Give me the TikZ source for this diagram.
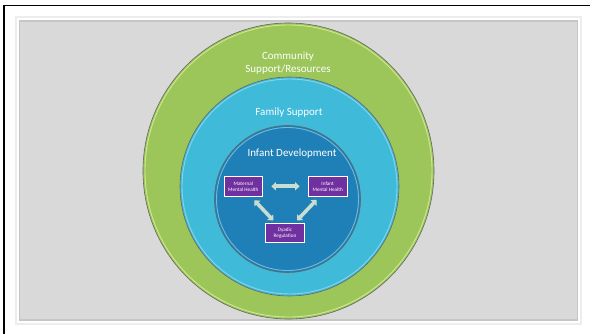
\documentclass[tikz,border=0pt]{standalone}
\usepackage{fontspec}
\setmainfont{Carlito}
\usetikzlibrary{arrows.meta}
\definecolor{panelgray}{HTML}{D9D9D9}
\definecolor{paneledge}{HTML}{C6C6C6}
\definecolor{ringgreen}{HTML}{9CC65A}
\definecolor{ringcyan}{HTML}{3FBAD8}
\definecolor{ringblue}{HTML}{1E80B6}
\definecolor{boxpurple}{HTML}{7030A0}
\definecolor{arrowpale}{HTML}{C9DDD2}
\tikzset{
  ring/.style={draw=black!60, line width=0.6pt},
  rim/.style={line width=0.9pt, opacity=0.6},
  ringlabel/.style={text=white, font=\fontsize{11}{13}\selectfont, align=center},
  statebox/.style={draw=white, line width=0.6pt, fill=boxpurple, text=white,
    minimum width=38.5pt, minimum height=19.3pt, inner sep=0pt, align=center,
    font=\fontsize{5.2}{6}\selectfont},
  linkarrow/.style={draw=arrowpale, line width=3.6pt,
    {Triangle[width=8pt,length=4.5pt]}-{Triangle[width=8pt,length=4.5pt]}}
}
\begin{document}
\begin{tikzpicture}[x=1pt,y=-1pt]
\useasboundingbox (0,0) rectangle (590,334);
\fill[white] (0,0) rectangle (590,334);
% outer frame (open to the right and bottom)
\draw[black, line width=1.8pt] (4,334) -- (4,5.5) -- (590,5.5);
% gray panel with its light outer border
\draw[black!7, line width=1.5pt] (16,17) rectangle (581,324);
\draw[paneledge, fill=panelgray, line width=1.2pt] (19.5,21) rectangle (577.5,320);
% nested rings
\draw[ring, fill=ringgreen] (288.5,171) ellipse [x radius=145.5, y radius=148];
\draw[rim, draw=green!20!yellow!30!white] (288.5,171) ellipse [x radius=143.5, y radius=146];
\draw[ring, fill=ringcyan] (289.5,186.5) ellipse [x radius=109.5, y radius=109.5];
\draw[rim, draw=cyan!30!white] (289.5,186.5) ellipse [x radius=107.5, y radius=107.5];
\draw[ring, fill=ringblue] (287.5,199) ellipse [x radius=73, y radius=73.5];
\draw[rim, draw=cyan!35!white] (287.5,199) ellipse [x radius=71, y radius=71.5];
% ring labels
\node[ringlabel] (community) at (288,63) {Community\\Support/Resources};
\node[ringlabel] (family) at (289,112.5) {Family Support};
\node[ringlabel] (infantdev) at (292,153.5) {Infant Development};
% the three states
\node[statebox] (mat) at (243.3,186.3) {Maternal\\Mental Health};
\node[statebox] (inf) at (327.7,186.3) {Infant\\Mental Health};
\node[statebox] (dy) at (285,233) {Dyadic\\Regulation};
% links between them
\draw[linkarrow] ([xshift=8.5pt]mat.east) -- ([xshift=-8.5pt]inf.west);
\draw[linkarrow] ([shift={(11,4)}]mat.south) -- ([shift={(-11.7,-2.6)}]dy.north);
\draw[linkarrow] ([shift={(-11,3.5)}]inf.south) -- ([shift={(12,-2.6)}]dy.north);
\end{tikzpicture}
\end{document}
